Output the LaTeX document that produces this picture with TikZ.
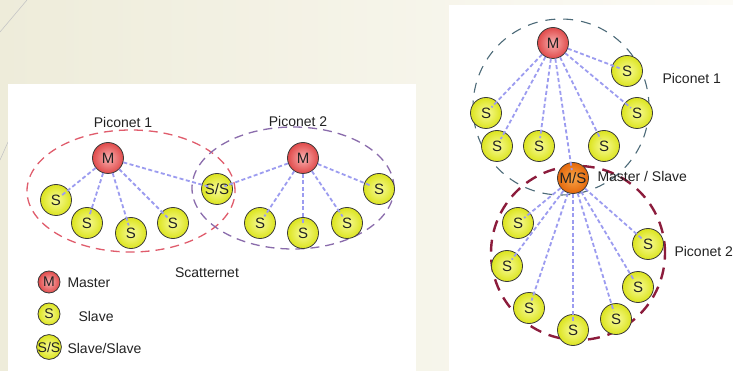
\documentclass[tikz,border=0pt]{standalone}
\usepackage{fontspec}
\setmainfont{Liberation Sans}
\usetikzlibrary{positioning}
\definecolor{Cream}{HTML}{EEECDA}
\definecolor{CreamLight}{HTML}{FCFBF6}
\definecolor{Ink}{HTML}{222222}
\definecolor{Rim}{HTML}{3A3A3A}
\definecolor{MasterIn}{HTML}{F9B0B0}
\definecolor{MasterOut}{HTML}{E04A4A}
\definecolor{SlaveIn}{HTML}{F8FB9A}
\definecolor{SlaveOut}{HTML}{DCE41E}
\definecolor{BridgeIn}{HTML}{F9A447}
\definecolor{BridgeOut}{HTML}{E4680C}
\definecolor{LinkBlue}{HTML}{9C9CF0}
\definecolor{PicoRed}{HTML}{E05C6C}
\definecolor{PicoPurple}{HTML}{8A6CAC}
\definecolor{PicoSlate}{HTML}{4C6A78}
\definecolor{PicoMaroon}{HTML}{8C1C3C}

\tikzset{
  unit/.style={circle,draw=Rim,line width=0.8pt,inner sep=0pt,minimum size=31pt,text=Ink,
    font=\fontsize{15}{17}\selectfont},
  master/.style={unit,inner color=MasterIn,outer color=MasterOut},
  slave/.style={unit,inner color=SlaveIn,outer color=SlaveOut},
  bridge/.style={unit,inner color=BridgeIn,outer color=BridgeOut},
  small/.style={minimum size=22pt,font=\fontsize{14}{16}\selectfont},
  link/.style={draw=LinkBlue,line width=1.8pt,dash pattern=on 4pt off 2.5pt,shorten >=-8pt},
  label/.style={text=Ink}
}

\begin{document}
\begin{tikzpicture}[x=1pt,y=-1pt,font=\fontsize{14}{16}\selectfont]
  \useasboundingbox (0,0) rectangle (733,371);
  % slide background
  \shade[left color=Cream,right color=CreamLight] (0,0) rectangle (733,371);
  \draw[gray!45,line width=0.6pt] (0,32) -- (27,0);
  \draw[gray!45,line width=0.6pt] (0,160) -- (8,142);
  \fill[white] (8,84) rectangle (416,371);
  \fill[white] (449,5) rectangle (733,371);

  % scatternet of two piconets
  \draw[PicoRed,line width=1.3pt,dash pattern=on 9pt off 6pt] (131,191) ellipse [x radius=104pt,y radius=61pt];
  \draw[PicoPurple,line width=1.3pt,dash pattern=on 9pt off 6pt] (293,188) ellipse [x radius=101pt,y radius=61pt];
  \node[label] (titleA) at (123,122) {Piconet 1};
  \node[label] (titleB) at (298,121) {Piconet 2};
  \node[master] (mA) at (108,158) {M};
  \node[slave] (sA1) at (56,200) {S};
  \node[slave] (sA2) at (87,223) {S};
  \node[slave] (sA3) at (131,233) {S};
  \node[slave] (sA4) at (173,223) {S};
  \node[slave] (sAB) at (217,189) {S/S};
  \node[master] (mB) at (303,158) {M};
  \node[slave] (sB1) at (260,223) {S};
  \node[slave] (sB2) at (303,233) {S};
  \node[slave] (sB3) at (347,223) {S};
  \node[slave] (sB4) at (379,189) {S};
  \foreach \s in {sA1,sA2,sA3,sA4,sAB} \draw[link] (mA) -- (\s);
  \foreach \s in {sAB,sB1,sB2,sB3,sB4} \draw[link] (mB) -- (\s);
  \node[label] (scatter) at (207,273) {Scatternet};

  % legend
  \node[master,small] (legM) at (49,282) {M};
  \node[slave,small] (legS) at (49,314) {S};
  \node[slave,small] (legSS) at (49,347) {S/S};
  \node[label,anchor=west] (txtM) at (64,283) {Master};
  \node[label,anchor=west] (txtS) at (75,316) {Slave};
  \node[label,anchor=west] (txtSS) at (64,348) {Slave/Slave};

  % master/slave bridge
  \draw[PicoSlate,line width=1.1pt,dash pattern=on 10pt off 8pt] (561,107) circle [radius=88pt];
  \draw[PicoMaroon,line width=2.4pt,dash pattern=on 12pt off 8pt] (578,253) circle [radius=87pt];
  \node[master] (mC) at (553,43) {M};
  \node[slave] (sC1) at (627,71) {S};
  \node[slave] (sC2) at (486,113) {S};
  \node[slave] (sC3) at (637,113) {S};
  \node[slave] (sC4) at (497,146) {S};
  \node[slave] (sC5) at (539,146) {S};
  \node[slave] (sC6) at (604,146) {S};
  \node[bridge] (ms) at (573,178) {M/S};
  \node[slave] (sD1) at (518,223) {S};
  \node[slave] (sD2) at (507,266) {S};
  \node[slave] (sD3) at (648,244) {S};
  \node[slave] (sD4) at (529,308) {S};
  \node[slave] (sD5) at (638,287) {S};
  \node[slave] (sD6) at (573,330) {S};
  \node[slave] (sD7) at (616,319) {S};
  \foreach \s in {sC1,sC2,sC3,sC4,sC5,sC6,ms} \draw[link] (mC) -- (\s);
  \foreach \s in {sD1,sD2,sD3,sD4,sD5,sD6,sD7} \draw[link] (ms) -- (\s);
  \node[label,anchor=west] (titleC) at (659,78) {Piconet 1};
  \node[label,anchor=west] (titleMS) at (594,176) {Master / Slave};
  \node[label,anchor=west] (titleD) at (671,251) {Piconet 2};
\end{tikzpicture}
\end{document}
